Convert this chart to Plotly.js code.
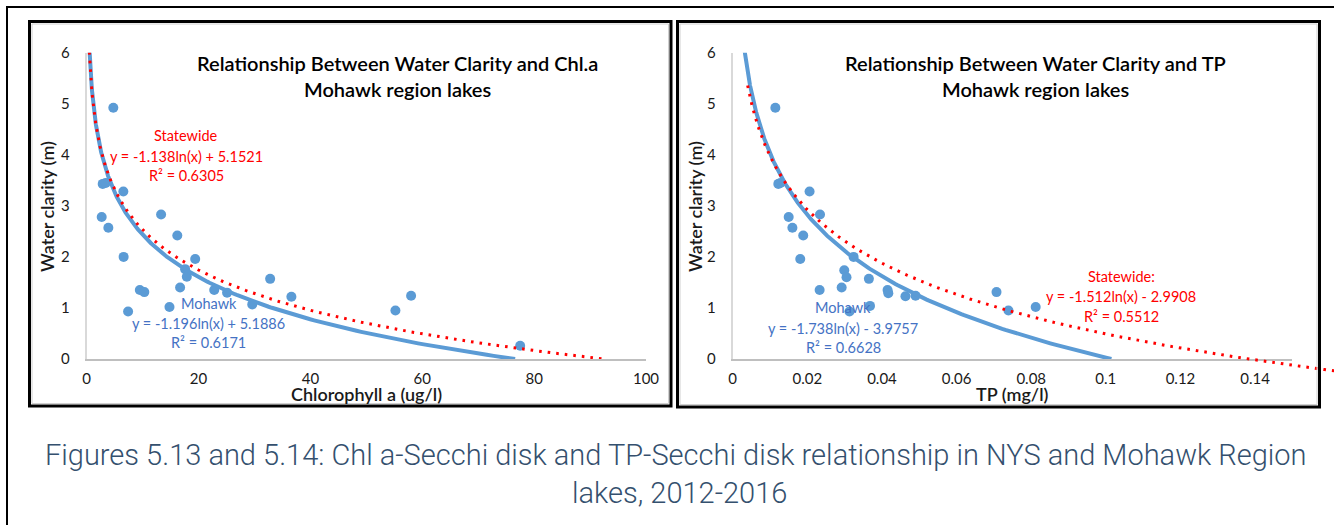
<!DOCTYPE html>
<html>
<head>
<meta charset="utf-8">
<script src="https://cdn.plot.ly/plotly-3.0.1.min.js"></script>
<style>html,body{margin:0;padding:0;background:#fff;}#chart{width:1334px;height:525px;}</style>
</head>
<body>
<div id="chart"></div>
<script>
// ---------- data ----------
const chlX = [4.76, 2.86, 3.4, 6.55, 2.68, 3.87, 13.3, 16.2, 6.6, 19.4, 17.6, 17.9, 16.7, 9.5, 10.3, 22.8, 25.1, 7.4, 14.8, 29.6, 32.8, 36.6, 55.2, 58.0, 77.5];
const chlY = [4.92, 3.43, 3.45, 3.28, 2.78, 2.57, 2.83, 2.42, 2.0, 1.96, 1.76, 1.61, 1.40, 1.35, 1.31, 1.35, 1.30, 0.93, 1.02, 1.07, 1.57, 1.22, 0.95, 1.24, 0.26];

const tpX = [0.01143, 0.01223, 0.0128, 0.0206, 0.0150, 0.0160, 0.0234, 0.0189, 0.0324, 0.0181, 0.0299, 0.0305, 0.0365, 0.0292, 0.0233, 0.0415, 0.0417, 0.0463, 0.0490, 0.0368, 0.0313, 0.0707, 0.0739, 0.0812];
const tpY = [4.92, 3.43, 3.45, 3.28, 2.78, 2.57, 2.83, 2.42, 2.0, 1.96, 1.74, 1.60, 1.57, 1.40, 1.35, 1.35, 1.29, 1.23, 1.24, 1.04, 0.93, 1.31, 0.95, 1.02];

// trendline coefficients y = a*ln(x) + b, and x extent of each drawn trendline
const chlMohawkFit = [-1.196, 5.1886];
const chlMohawkSpan = [0.45, 76.6];
const chlStateFit = [-1.138, 5.1521];
const chlStateSpan = [0.47, 92.5];
const tpMohawkFit = [-1.738, -3.9757];
const tpMohawkSpan = [0.0030, 0.1015];
const tpStateFit = [-1.512, -2.9908];
const tpStateSpan = [0.0040, 0.1625];

const chlTicks = [0, 20, 40, 60, 80, 100];
const tpTicks = [0, 0.02, 0.04, 0.06, 0.08, 0.1, 0.12, 0.14];
const tpTickText = ['0', '0.02', '0.04', '0.06', '0.08', '0.1', '0.12', '0.14'];
const yTicks = [0, 1, 2, 3, 4, 5, 6];

// ---------- helpers ----------
const W = 1334, H = 525;
const px = x => x / W;
const py = y => (H - y) / H;

function logCurve(fit, span, n) {
  const xs = [], ys = [];
  const l0 = Math.log(span[0]), l1 = Math.log(span[1]);
  for (let i = 0; i <= n; i++) {
    const x = Math.exp(l0 + (l1 - l0) * i / n);
    xs.push(x); ys.push(fit[0] * Math.log(x) + fit[1]);
  }
  return {x: xs, y: ys};
}

// plot area geometry (pixels)
const L = {x0: 86.7, x1: 646, y0: 359, y1: 52.7};
const R = {x0: 732.7, x1: 1292.4, y0: 359, y1: 52.7};
const tpMax = 0.15;
// overflow area for statewide TP trend (extends past the plot like in Excel)
const Rx1o = 1334, Ry0o = 385;
const tpMaxO = tpMax * (Rx1o - R.x0) / (R.x1 - R.x0);
const yMinO = -6 * (Ry0o - R.y0) / (R.y0 - R.y1);

const blue = '#5B9BD5';
const red = '#FF0000';
const FONT = 'Lato, "Open Sans", sans-serif';

const cm = logCurve(chlMohawkFit, chlMohawkSpan, 300);
const cs = logCurve(chlStateFit, chlStateSpan, 300);
const tm = logCurve(tpMohawkFit, tpMohawkSpan, 300);
const ts = logCurve(tpStateFit, tpStateSpan, 300);

const dotted = {color: red, width: 3, dash: '2.6px,6px'};

const traces = [
  {x: chlX, y: chlY, type: 'scatter', mode: 'markers', xaxis: 'x', yaxis: 'y',
   marker: {color: blue, size: 10}, hoverinfo: 'skip'},
  {x: cm.x, y: cm.y, type: 'scatter', mode: 'lines', xaxis: 'x', yaxis: 'y',
   line: {color: blue, width: 4}, hoverinfo: 'skip'},
  {x: cs.x, y: cs.y, type: 'scatter', mode: 'lines', xaxis: 'x', yaxis: 'y',
   line: dotted, hoverinfo: 'skip'},
  {x: tpX, y: tpY, type: 'scatter', mode: 'markers', xaxis: 'x2', yaxis: 'y2',
   marker: {color: blue, size: 10}, hoverinfo: 'skip'},
  {x: tm.x, y: tm.y, type: 'scatter', mode: 'lines', xaxis: 'x2', yaxis: 'y2',
   line: {color: blue, width: 4}, hoverinfo: 'skip'},
  {x: ts.x, y: ts.y, type: 'scatter', mode: 'lines', xaxis: 'x3', yaxis: 'y3',
   line: dotted, hoverinfo: 'skip'}
];

const tickFont = {family: FONT, size: 15, color: '#1a1a1a'};
function xAx(dom, range, vals, text, anchor) {
  return {domain: dom, range: range, anchor: anchor, tickvals: vals, ticktext: text,
    showgrid: false, zeroline: false, showline: true, linecolor: '#bfbfbf', linewidth: 2,
    ticks: '', ticklabelstandoff: 5, tickfont: tickFont, fixedrange: true};
}
function yAx(dom, anchor) {
  return {domain: dom, range: [0, 6], anchor: anchor, tickvals: yTicks,
    showgrid: false, zeroline: false, showline: true, linecolor: '#d9d9d9', linewidth: 2,
    ticks: '', ticklabelstandoff: 12, tickfont: tickFont, fixedrange: true};
}

const ann = [];
function txt(x, y, text, font, extra) {
  ann.push(Object.assign({xref: 'paper', yref: 'paper', x: px(x), y: py(y), text: text,
    showarrow: false, xanchor: 'center', yanchor: 'middle', font: font}, extra || {}));
}
// chart titles
const titleF = {family: FONT, size: 20, color: '#000', weight: 600};
txt(397, 63, 'Relationship Between Water Clarity and Chl.a', titleF);
txt(397, 89, 'Mohawk region lakes', titleF);
txt(1035, 63, 'Relationship Between Water Clarity and TP', titleF);
txt(1035, 89, 'Mohawk region lakes', titleF);
// axis titles
const axT = {family: FONT, size: 18, color: '#1a1a1a', weight: 600};
txt(366, 394, 'Chlorophyll a (ug/l)', axT);
txt(1012, 394, 'TP (mg/l)', axT);
txt(47, 207, 'Water clarity (m)', axT, {textangle: -90});
txt(695, 207, 'Water clarity (m)', axT, {textangle: -90});
// trendline labels
const redF = {family: FONT, size: 14.5, color: red};
const blueF = {family: FONT, size: 14.5, color: '#4472C4'};
txt(186, 135, 'Statewide', redF);
txt(186, 156, 'y = -1.138ln(x) + 5.1521', redF);
txt(186, 175, 'R² = 0.6305', redF);
txt(209, 303, 'Mohawk', blueF);
txt(209, 323, 'y = -1.196ln(x) + 5.1886', blueF);
txt(209, 342, 'R² = 0.6171', blueF);
txt(843, 307, 'Mohawk', blueF);
txt(843, 328, 'y = -1.738ln(x) - 3.9757', blueF);
txt(843, 347, 'R² = 0.6628', blueF);
txt(1121, 276, 'Statewide:', redF);
txt(1121, 296, 'y = -1.512ln(x) - 2.9908', redF);
txt(1121, 316, 'R² = 0.5512', redF);
// caption
const capF = {family: 'Roboto, sans-serif', size: 29, color: '#34506E', weight: 300};
txt(676, 455, 'Figures 5.13 and 5.14: Chl a-Secchi disk and TP-Secchi disk relationship in NYS and Mohawk Region', capF);
txt(679, 493, 'lakes, 2012-2016', capF);

function rect(x0, y0, x1, y1, color, w) {
  return {type: 'rect', xref: 'paper', yref: 'paper', x0: px(x0), x1: px(x1), y0: py(y0), y1: py(y1),
    line: {color: color, width: w}, fillcolor: 'rgba(0,0,0,0)', layer: 'above'};
}
const shapes = [
  rect(7, 7, 1345, 540, '#000', 2),
  rect(29.5, 21.5, 671, 406, '#000', 3),
  rect(32, 24, 668.5, 403.5, '#d0d0d0', 1),
  rect(677.5, 21.5, 1319.5, 407, '#000', 3),
  rect(680, 24, 1317, 404.5, '#d0d0d0', 1)
];

const layout = {
  width: W, height: H, margin: {l: 0, r: 0, t: 0, b: 0},
  paper_bgcolor: '#fff', plot_bgcolor: 'rgba(0,0,0,0)', showlegend: false,
  xaxis: xAx([px(L.x0), px(L.x1)], [0, 100], chlTicks, chlTicks.map(String), 'y'),
  yaxis: yAx([py(L.y0), py(L.y1)], 'x'),
  xaxis2: xAx([px(R.x0), px(R.x1)], [0, tpMax], tpTicks, tpTickText, 'y2'),
  yaxis2: yAx([py(R.y0), py(R.y1)], 'x2'),
  xaxis3: {domain: [px(R.x0), px(Rx1o)], range: [0, tpMaxO], anchor: 'y3', visible: false, fixedrange: true},
  yaxis3: {domain: [py(Ry0o), py(R.y1)], range: [yMinO, 6], anchor: 'x3', visible: false, fixedrange: true},
  annotations: ann, shapes: shapes
};

Plotly.newPlot('chart', traces, layout, {displayModeBar: false, staticPlot: true});
</script>
</body>
</html>
